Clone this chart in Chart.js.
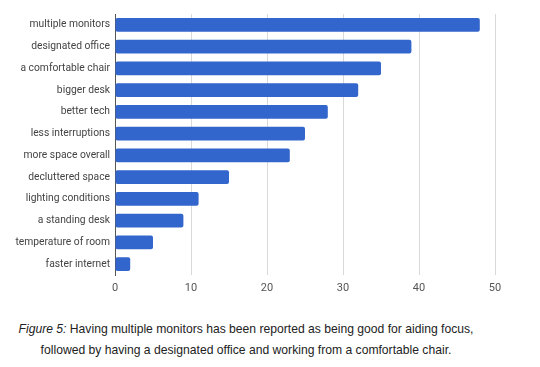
<!DOCTYPE html>
<html>
<head>
<meta charset="utf-8">
<script src="https://cdn.jsdelivr.net/npm/chart.js@4"></script>
<style>
  body { margin: 0; background: #fff; width: 540px; height: 367px; overflow: hidden; }
  .chart-box { position: relative; width: 540px; height: 300px; }
  .caption {
    font-family: "Liberation Sans", Arial, sans-serif;
    font-size: 12.15px;
    color: #222;
    line-height: 21px;
    text-align: center;
    width: 492px;
    margin-top: 19px;
  }
  .caption em { font-style: italic; }
</style>
</head>
<body>
<div class="chart-box"><canvas id="focusChart"></canvas></div>
<div class="caption">
  <em>Figure 5:</em> Having multiple monitors has been reported as being good for aiding focus,<br>
  followed by having a designated office and working from a comfortable chair.
</div>
<script>
// --- data ---
const categories = [
  'multiple monitors', 'designated office', 'a comfortable chair', 'bigger desk',
  'better tech', 'less interruptions', 'more space overall', 'decluttered space',
  'lighting conditions', 'a standing desk', 'temperature of room', 'faster internet'
];
const votes = [48, 39, 35, 32, 28, 25, 23, 15, 11, 9, 5, 2];
const xTicks = [0, 10, 20, 30, 40, 50];

const barColor = '#3366cc';

new Chart(document.getElementById('focusChart'), {
  type: 'bar',
  data: {
    labels: categories,
    datasets: [{
      data: votes,
      backgroundColor: barColor,
      borderRadius: 2,
      borderSkipped: false,
      barPercentage: 0.64,
      categoryPercentage: 1
    }]
  },
  options: {
    indexAxis: 'y',
    responsive: true,
    maintainAspectRatio: false,
    animation: false,
    layout: { padding: { top: 14, right: 45, left: 0, bottom: 0 } },
    plugins: { legend: { display: false }, tooltip: { enabled: false } },
    scales: {
      x: {
        min: 0, max: 50,
        afterBuildTicks: s => { s.ticks = xTicks.map(v => ({ value: v })); },
        afterFit: s => { s.height = 25; },
        grid: { color: '#d9d9d9', drawTicks: false },
        border: { display: false },
        ticks: {
          padding: 7,
          color: '#555',
          font: { family: 'Roboto', size: 11 }
        }
      },
      y: {
        afterFit: s => { s.width = 115; },
        grid: { display: false, drawTicks: false },
        border: { display: true, color: '#555', width: 1 },
        ticks: {
          padding: 5,
          color: '#444',
          font: { family: 'Roboto', size: 10.3 }
        }
      }
    }
  }
});
</script>
</body>
</html>
